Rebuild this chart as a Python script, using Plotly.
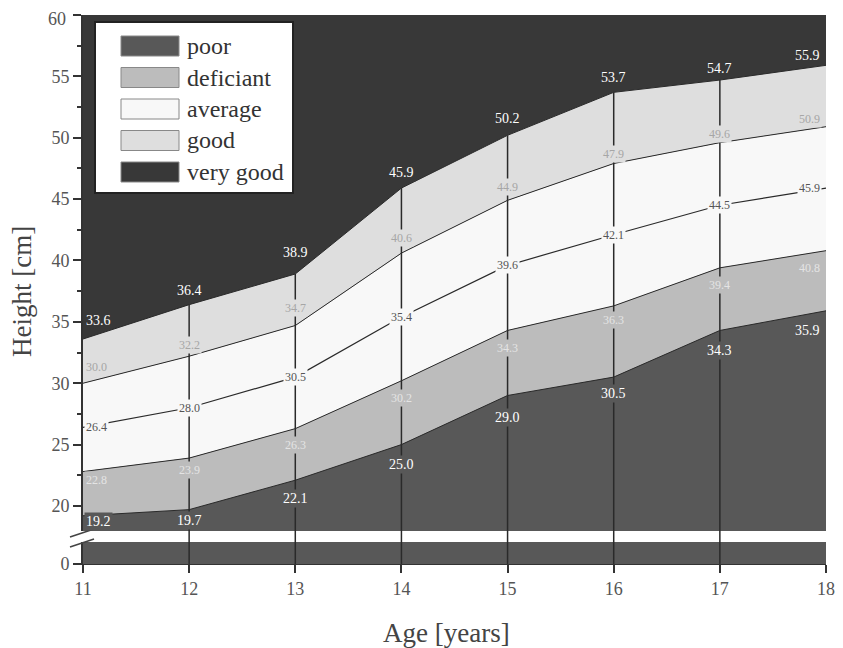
import plotly.graph_objects as go

# ---------------- data ----------------
ages = [11, 12, 13, 14, 15, 16, 17, 18]
poor_top = [19.2, 19.7, 22.1, 25.0, 29.0, 30.5, 34.3, 35.9]
deficiant_top = [22.8, 23.9, 26.3, 30.2, 34.3, 36.3, 39.4, 40.8]
median = [26.4, 28.0, 30.5, 35.4, 39.6, 42.1, 44.5, 45.9]
average_top = [30.0, 32.2, 34.7, 40.6, 44.9, 47.9, 49.6, 50.9]
good_top = [33.6, 36.4, 38.9, 45.9, 50.2, 53.7, 54.7, 55.9]
categories = ["poor", "deficiant", "average", "good", "very good"]
y_ticks_top = [20, 25, 30, 35, 40, 45, 50, 55, 60]
y_ticks_bottom = [0]

# ---------------- styles ----------------
COL = {"poor": "#585858", "deficiant": "#bcbcbc", "average": "#f8f8f8",
       "good": "#dedede", "very good": "#383838"}
LINE = "#2a2a2a"
FONT = "Liberation Serif"
OFF = 8  # page body margin
W, H = 835, 640
ML, MR, MT, MB = 75, 17, 7, 84
PW, PH = W - ML - MR, H - MT - MB
PLOT_LEFT = OFF + ML
PLOT_BOTTOM = OFF + H - MB
TOP_RANGE = [17.96, 60]
BOT_RANGE = [0, 1.8]
TOP_DOM = [(PLOT_BOTTOM - 531) / PH, 1]
BOT_DOM = [0, (PLOT_BOTTOM - 542) / PH]

def fx(px):
    return (px - PLOT_LEFT) / PW

def fy(py):
    return (PLOT_BOTTOM - py) / PH

# label vertical offsets (px) per row
g_shift = [19, 14, 21, 16, 17, 15, 12, 10]
a_shift = [16, 11, 18, 15, 13, 10, 9, 8]
m_shift = [0] * 8
d_shift = [-8, -12, -16, -17, -18, -14, -17, -17]
p_shift = [-6, -11, -18, -20, -22, -16, -20, -20]

fig = go.Figure()

# top panel fills
top_series = [("poor", poor_top, "tozeroy"), ("deficiant", deficiant_top, "tonexty"),
              ("average", average_top, "tonexty"), ("good", good_top, "tonexty")]
for name, vals, fill in top_series:
    fig.add_trace(go.Scatter(x=ages, y=vals, mode="lines", fill=fill,
                             fillcolor=COL[name], line=dict(color=LINE, width=1),
                             xaxis="x2", yaxis="y", showlegend=False, hoverinfo="skip"))
# median line
fig.add_trace(go.Scatter(x=ages, y=median, mode="lines", line=dict(color=LINE, width=1.2),
                         xaxis="x2", yaxis="y", showlegend=False, hoverinfo="skip"))
# bottom panel (below break)
fig.add_trace(go.Scatter(x=ages, y=poor_top, mode="lines", fill="tozeroy",
                         fillcolor=COL["poor"], line=dict(color=COL["poor"], width=0),
                         xaxis="x", yaxis="y2", showlegend=False, hoverinfo="skip"))

shapes = []
# vertical lines at inner ages
for a, g in zip(ages[1:-1], good_top[1:-1]):
    shapes.append(dict(type="line", xref="x", yref="y", x0=a, x1=a, y0=TOP_RANGE[0], y1=g,
                       line=dict(color=LINE, width=1.5), layer="above"))
    shapes.append(dict(type="line", xref="x", yref="paper", x0=a, x1=a, y0=0, y1=TOP_DOM[0],
                       line=dict(color=LINE, width=1.5), layer="above"))
# axis break marks
for off in (0, 10):
    shapes.append(dict(type="line", xref="paper", yref="paper",
                       x0=fx(70), x1=fx(94), y0=fy(537 + off), y1=fy(529 + off),
                       line=dict(color="#444", width=1.5)))

annotations = []
rows = [(good_top, g_shift, "white", COL["very good"], 14),
        (average_top, a_shift, "#a6a6a6", COL["good"], 12),
        (median, m_shift, "#555555", COL["average"], 12),
        (deficiant_top, d_shift, "#e4e4e4", COL["deficiant"], 12),
        (poor_top, p_shift, "white", COL["poor"], 14)]
for vals, shifts, fcol, bg, fs in rows:
    for i, (a, v) in enumerate(zip(ages, vals)):
        if i == 0:
            xa, xs = "left", 1
        elif i == len(ages) - 1:
            xa, xs = "right", -4
        else:
            xa, xs = "center", 0
        annotations.append(dict(x=a, y=v, xref="x2", yref="y", text=f"{v:.1f}",
                                showarrow=False, xanchor=xa, xshift=xs, yshift=shifts[i],
                                bgcolor=bg, borderpad=1,
                                font=dict(family=FONT, size=fs, color=fcol)))

# custom legend
shapes.append(dict(type="rect", xref="paper", yref="paper", x0=fx(95), x1=fx(293),
                   y0=fy(193), y1=fy(22), fillcolor="white",
                   line=dict(color="#222", width=2), layer="above"))
for i, name in enumerate(categories):
    cy = 46 + i * 31.5
    shapes.append(dict(type="rect", xref="paper", yref="paper", x0=fx(121), x1=fx(179),
                       y0=fy(cy + 10), y1=fy(cy - 10), fillcolor=COL[name],
                       line=dict(color="#888", width=1), layer="above"))
    annotations.append(dict(x=fx(185), y=fy(cy), xref="paper", yref="paper", text=name,
                            showarrow=False, xanchor="left", yanchor="middle",
                            font=dict(family=FONT, size=24, color="#333")))

axis_font = dict(family=FONT, size=18, color="#555")
title_font = dict(family=FONT, size=27, color="#444")

# axis titles (placed as text)
annotations.append(dict(x=fx(22), y=fy(292), xref="paper", yref="paper", text="Height [cm]",
                        showarrow=False, textangle=-90, xanchor="center", yanchor="middle",
                        font=title_font))
annotations.append(dict(x=fx(446), y=fy(633), xref="paper", yref="paper", text="Age [years]",
                        showarrow=False, xanchor="center", yanchor="middle",
                        font=title_font))
# top tick label, nudged to stay inside the page
top_tick = y_ticks_top[-1]
annotations.append(dict(x=fx(68), y=top_tick, xref="paper", yref="y", text=str(top_tick),
                        showarrow=False, xanchor="right", yanchor="middle", yshift=-4,
                        font=axis_font))
tick_text = [str(t) if t != top_tick else "" for t in y_ticks_top]

fig.update_layout(
    width=W, height=H,
    margin=dict(l=ML, r=MR, t=MT, b=MB, autoexpand=False),
    paper_bgcolor="white", plot_bgcolor=COL["very good"],
    showlegend=False,
    xaxis=dict(domain=[0, 1], anchor="y2", range=[11, 18], tickvals=ages, automargin=False,
               ticks="outside", ticklen=8, tickcolor="#333", tickwidth=1.5,
               ticklabeloverflow="allow",
               showline=True, linecolor="#333", linewidth=1, showgrid=False, zeroline=False,
               tickfont=axis_font),
    xaxis2=dict(domain=[0, 1], anchor="y", matches="x", range=[11, 18], automargin=False,
                showticklabels=False, ticks="", showline=False, showgrid=False, zeroline=False),
    yaxis=dict(domain=TOP_DOM, range=TOP_RANGE, tickvals=y_ticks_top, ticktext=tick_text,
               automargin=False,
               ticks="outside", ticklen=8, tickcolor="#333", tickwidth=1.5,
               ticklabeloverflow="allow",
               minor=dict(dtick=2.5, tick0=0, ticks="outside", ticklen=4, tickcolor="#333"),
               showline=True, linecolor="#333", linewidth=2, showgrid=False, zeroline=False,
               tickfont=axis_font),
    yaxis2=dict(domain=BOT_DOM, range=BOT_RANGE, tickvals=y_ticks_bottom, automargin=False,
                ticks="outside", ticklen=8, tickcolor="#333", tickwidth=1.5,
                showline=True, linecolor="#333", linewidth=2, showgrid=False, zeroline=False,
                tickfont=axis_font),
    shapes=shapes,
    annotations=annotations,
)

fig.write_html("out.html")
